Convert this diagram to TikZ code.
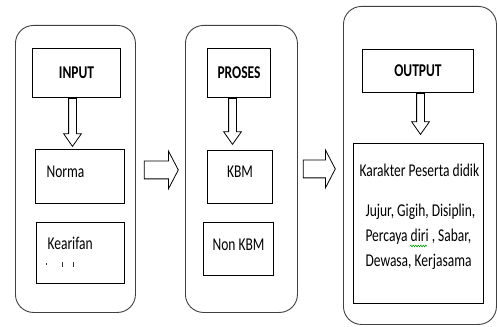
\documentclass[tikz,border=0pt]{standalone}
\usepackage{fontspec}
\setmainfont{Carlito}[FakeStretch=0.75]
\usetikzlibrary{shapes.arrows, calc, decorations.pathmorphing}
\tikzset{
 frame/.style={draw=black!75, line width=0.9pt, rounded corners=18pt, anchor=north west, inner sep=0pt},
 box/.style={draw, line width=1pt, anchor=north west, inner sep=0pt},
 down arrow/.style={single arrow, draw, line width=0.8pt, inner xsep=3.5pt, inner ysep=0pt, anchor=tail,
   shape border rotate=270, single arrow head extend=5pt, single arrow tip angle=70},
 right arrow/.style={single arrow, draw, line width=0.8pt, inner xsep=0pt, inner ysep=8.5pt, anchor=tail,
   single arrow head extend=10pt, single arrow tip angle=125},
 spell/.style={draw=green!60!black, line width=0.6pt, decorate, decoration={snake, amplitude=0.8pt, segment length=2.5pt}}
}

\begin{document}
\begin{tikzpicture}[x=1pt, y=-1pt, font=\fontsize{18pt}{25pt}\selectfont]
 \useasboundingbox (0,0) rectangle (497,326);
 % three stages
 \node[frame, minimum width=120pt, minimum height=287pt] (inframe) at (15,25) {};
 \node[frame, minimum width=112pt, minimum height=287pt] (proframe) at (185,25) {};
 \node[frame, minimum width=153pt, minimum height=318pt] (outframe) at (343,6) {};
 % input
 \node[box, minimum width=88pt, minimum height=49pt] (input) at (32,48) {};
 \node at (input.center) {\bfseries INPUT};
 \node[box, minimum width=89pt, minimum height=54pt] (norma) at (35,149) {};
 \node[anchor=west] at ([xshift=8pt, yshift=-23pt]norma.north west) {Norma};
 \node[box, minimum width=88pt, minimum height=61pt] (kearifan) at (36,222) {};
 \node[anchor=west] at ([xshift=8pt, yshift=-21pt]kearifan.north west) {Kearifan};
 \draw[line width=1pt, black!80] (46,263) -- (46,265) (62,262) -- (62,267) (73,262) -- (73,267);
 % proses
 \node[box, minimum width=63pt, minimum height=49pt] (proses) at (207,48) {};
 \node at (proses.center) {\bfseries PROSES};
 \node[box, minimum width=65pt, minimum height=53pt] (kbm) at (207,150) {};
 \node at ([yshift=-22pt]kbm.north) {KBM};
 \node[box, minimum width=70pt, minimum height=53pt] (nonkbm) at (203,222) {};
 \node at ([yshift=-23pt]nonkbm.north) {Non KBM};
 % output
 \node[box, minimum width=111pt, minimum height=43pt] (output) at (362,49) {};
 \node at (output.center) {\bfseries OUTPUT};
 \node[box, minimum width=130pt, minimum height=160pt] (karakter) at (353,143) {};
 \node[anchor=west] at ([xshift=3pt, yshift=-27pt]karakter.north west) {Karakter Peserta didik};
 \node[anchor=west, align=left] (traits) at ([xshift=9pt, yshift=-94pt]karakter.north west)
   {Jujur, Gigih, Disiplin,\\Percaya diri , Sabar,\\Dewasa, Kerjasama};
 \draw[spell] (410,246) -- (427,246);
 % arrows
 \node[down arrow, minimum height=48pt] (a1) at ([xshift=-4pt]input.south) {};
 \node[down arrow, minimum height=46pt] (a2) at ([xshift=-6.5pt]proses.south) {};
 \node[down arrow, minimum height=41pt] (a3) at ([xshift=2.5pt]output.south) {};
 \node[right arrow, minimum height=34pt] (b1) at ([xshift=8pt, yshift=-1pt]inframe.east) {};
 \node[right arrow, minimum height=32pt] (b2) at ([xshift=5pt, yshift=0pt]proframe.east) {};
\end{tikzpicture}
\end{document}
